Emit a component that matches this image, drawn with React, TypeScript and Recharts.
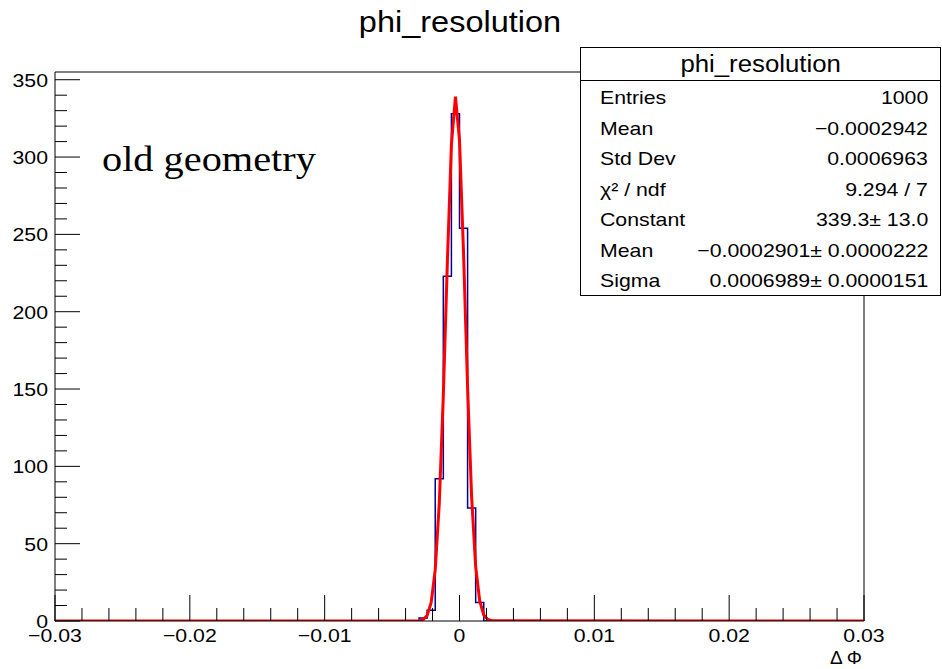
import React from 'react';
import { LineChart, Line, XAxis, YAxis, ReferenceLine } from 'recharts';

// histogram bin edges (0.0006 wide bins) and counts
const binEdges = [-0.03, -0.003, -0.0024, -0.0018, -0.0012, -0.0006, 0, 0.0006, 0.0012, 0.0018, 0.03];
const binCounts = [0, 2, 7, 92, 223, 328, 254, 73, 12, 0, 0];

// red fit curve
const fitX = [-0.03, -0.0033, -0.003, -0.0027, -0.0024, -0.0021, -0.0018, -0.0015, -0.0012, -0.0009, -0.0006, -0.0003, 0, 0.0003, 0.0006, 0.0009, 0.0012, 0.0015, 0.0018, 0.0021, 0.0024, 0.03];
const fitY = [0, 0, 0.2, 0.9, 3.6, 12, 33, 76, 146, 232, 308, 339, 311, 238, 151, 80, 35, 13, 3.9, 1, 0.2, 0];

const xMajor = [-0.03, -0.02, -0.01, 0, 0.01, 0.02, 0.03];
const yMajor = [0, 50, 100, 150, 200, 250, 300, 350];
const yTop = 355;

const statLabels = ['Entries', 'Mean', 'Std Dev', 'χ² / ndf', 'Constant', 'Mean', 'Sigma'];
const statValues = ['1000', '−0.0002942', '0.0006963', '9.294 / 7', '339.3± 13.0', '−0.0002901± 0.0000222', '0.0006989± 0.0000151'];

const histData = binEdges.map((x, i) => ({ x, y: binCounts[i] }));
const fitData = fitX.map((x, i) => ({ x, y: fitY[i] }));

// 5 minor divisions per major step
const subdivide = (majors: number[]) => {
  const out: number[] = [];
  for (let i = 0; i < majors.length - 1; i++) {
    const step = (majors[i + 1] - majors[i]) / 5;
    for (let k = 0; k < 5; k++) out.push(+(majors[i] + k * step).toFixed(6));
  }
  out.push(majors[majors.length - 1]);
  return out;
};
const xTicks = subdivide(xMajor);
const yTicks = subdivide(yMajor);

const SX = 1.12;
const sans = '"Liberation Sans", Arial, Helvetica, sans-serif';
const isMajor = (arr: number[], v: number) => arr.some(m => Math.abs(m - v) < 1e-9);
const fmtX = (v: number) => (Math.abs(v) < 1e-12 ? '0' : (v < 0 ? '−' : '') + Math.abs(v).toFixed(2));

const XTick = (props: any) => {
  const { x, y, payload } = props;
  const major = isMajor(xMajor, payload.value);
  return (
    <g>
      <line x1={x} x2={x} y1={y} y2={y - (major ? 26 : 13)} stroke="#000" strokeWidth={1} />
      {major && (
        <text transform={`translate(${x},${y + 21}) scale(${SX},1)`} textAnchor="middle" fontSize={19} fontFamily={sans} fill="#000">
          {fmtX(payload.value)}
        </text>
      )}
    </g>
  );
};

const YTick = (props: any) => {
  const { x, y, payload } = props;
  const major = isMajor(yMajor, payload.value);
  return (
    <g>
      <line x1={x} x2={x + (major ? 25 : 12)} y1={y} y2={y} stroke="#000" strokeWidth={1} />
      {major && (
        <text transform={`translate(${x - 7},${y + 7}) scale(${SX},1)`} textAnchor="end" fontSize={19} fontFamily={sans} fill="#000">
          {payload.value}
        </text>
      )}
    </g>
  );
};

export default function App() {
  return (
    <div style={{ position: 'absolute', left: 0, top: 0, width: 942, height: 669, background: '#fff', fontFamily: sans }}>
      <LineChart width={942} height={669} margin={{ top: 72, right: 78, bottom: 18, left: 0 }}>
        <XAxis dataKey="x" type="number" domain={[-0.03, 0.03]} ticks={xTicks} interval={0} height={30}
          tickSize={0} tickMargin={0} tickLine={false} tick={<XTick />} axisLine={{ stroke: '#000' }} allowDataOverflow />
        <YAxis type="number" domain={[0, yTop]} ticks={yTicks} interval={0} width={55}
          tickSize={0} tickMargin={0} tickLine={false} tick={<YTick />} axisLine={{ stroke: '#000' }} allowDataOverflow />
        <ReferenceLine y={yTop} stroke="#000" strokeWidth={1} />
        <ReferenceLine x={0.03} stroke="#000" strokeWidth={1} />
        <Line data={histData} dataKey="y" type="stepAfter" stroke="#000099" strokeWidth={1.5} dot={false} isAnimationActive={false} />
        <Line data={fitData} dataKey="y" type="linear" stroke="#ff0000" strokeWidth={3} dot={false} isAnimationActive={false} />
      </LineChart>

      <div style={{ position: 'absolute', left: 0, width: 920, top: 6, textAlign: 'center', fontSize: 29, transform: `scaleX(${SX})`, transformOrigin: '460px 0' }}>
        phi_resolution
      </div>

      <div style={{ position: 'absolute', left: 102, top: 138, fontFamily: '"Liberation Serif", "Times New Roman", serif', fontSize: 36, transform: `scaleX(${SX})`, transformOrigin: '0 0', whiteSpace: 'nowrap' }}>
        old geometry
      </div>

      <div style={{ position: 'absolute', left: 580, top: 47, width: 359, height: 247, border: '1px solid #000', background: '#fff' }}>
        <div style={{ height: 32, borderBottom: '1px solid #000', textAlign: 'center', fontSize: 23, lineHeight: '32px' }}>
          <span style={{ display: 'inline-block', transform: `scaleX(${SX})` }}>phi_resolution</span>
        </div>
        {statLabels.map((label, i) => (
          <div key={i} style={{ position: 'absolute', top: 35 + i * 30.5, left: 19, right: 12, height: 30, lineHeight: '30px', fontSize: 19, display: 'flex', justifyContent: 'space-between', whiteSpace: 'nowrap' }}>
            <span style={{ transform: `scaleX(${SX})`, transformOrigin: '0 50%' }}>{label}</span>
            <span style={{ transform: `scaleX(${SX})`, transformOrigin: '100% 50%' }}>{statValues[i]}</span>
          </div>
        ))}
      </div>

      <div style={{ position: 'absolute', right: 942 - 862, top: 647, fontSize: 19, whiteSpace: 'nowrap' }}>
        Δ Φ
      </div>
    </div>
  );
}
